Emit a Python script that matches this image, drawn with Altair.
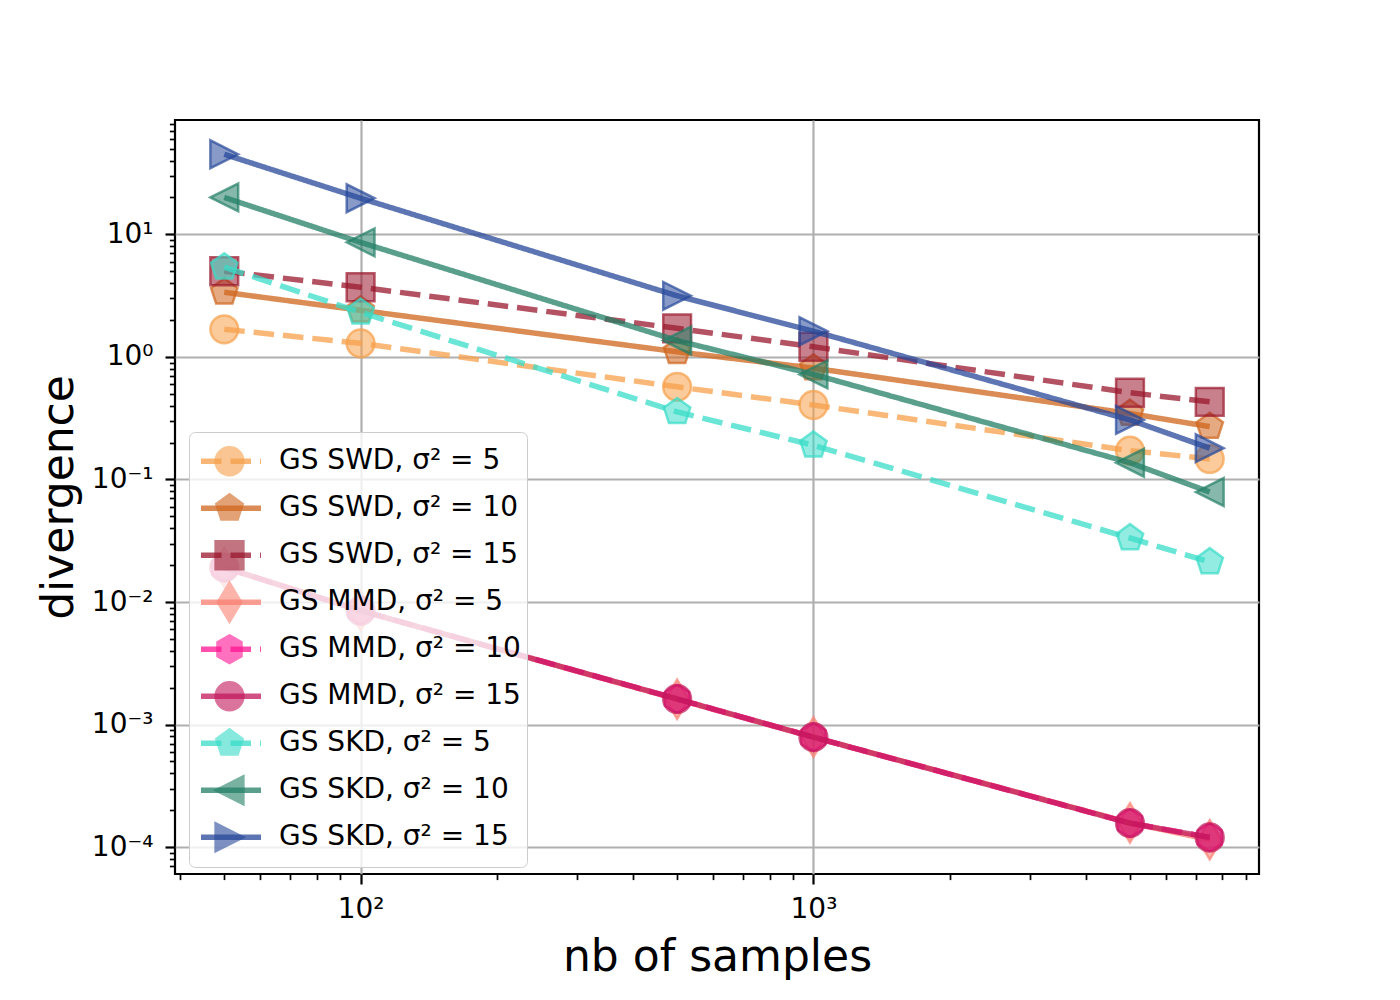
import math
import json
import altair as alt
import pandas as pd

# ---------------- data ----------------
x_vals = [50, 100, 500, 1000, 5000, 7500]

labels = [
    "GS SWD, σ² = 5", "GS SWD, σ² = 10", "GS SWD, σ² = 15",
    "GS MMD, σ² = 5", "GS MMD, σ² = 10", "GS MMD, σ² = 15",
    "GS SKD, σ² = 5", "GS SKD, σ² = 10", "GS SKD, σ² = 15",
]

swd5 = [1.68, 1.29, 0.57, 0.405, 0.172, 0.147]
swd10 = [3.37, 2.40, 1.10, 0.81, 0.345, 0.27]
swd15 = [5.0, 3.70, 1.71, 1.21, 0.51, 0.43]
mmd5 = [0.0192, 0.0085, 0.00161, 0.00079, 0.000158, 0.000115]
mmd10 = [0.0191, 0.0085, 0.00162, 0.00079, 0.000157, 0.00012]
mmd15 = [0.0191, 0.0085, 0.00162, 0.00079, 0.000157, 0.00012]
skd5 = [5.4, 2.31, 0.356, 0.19, 0.0333, 0.0212]
skd10 = [20.0, 8.6, 1.36, 0.72, 0.137, 0.079]
skd15 = [45.0, 19.7, 3.15, 1.62, 0.306, 0.18]

series_values = [swd5, swd10, swd15, mmd5, mmd10, mmd15, skd5, skd10, skd15]

colors = ["#f7a04a", "#cf651c", "#9a182e",
          "#fa8072", "#ff1493", "#c2185b",
          "#38dcc8", "#237f66", "#27489a"]

DASH = [20.5, 9]
SOLID = [1, 0]
dashes = [DASH, SOLID, DASH, SOLID, DASH, SOLID, DASH, SOLID, SOLID]

PENTAGON = "M0,-1L0.9511,-0.309L0.5878,0.809L-0.5878,0.809L-0.9511,-0.309Z"
HEXAGON = "M0,-1L0.866,-0.5L0.866,0.5L0,1L-0.866,0.5L-0.866,-0.5Z"
THIN_DIAMOND = "M0,-1.414L0.849,0L0,1.414L-0.849,0Z"
TRI_LEFT = "M-1,0L1,-1L1,1Z"
TRI_RIGHT = "M1,0L-1,-1L-1,1Z"
shapes = ["circle", PENTAGON, "square",
          THIN_DIAMOND, HEXAGON, "circle",
          PENTAGON, TRI_LEFT, TRI_RIGHT]

mkeys = [f"m{i}" for i in range(len(labels))]

rows = []
for k, (lab, vals) in enumerate(zip(labels, series_values)):
    for xv, yv in zip(x_vals, vals):
        rows.append({"k": k, "series": lab, "mk": mkeys[k], "x": xv, "y": yv})
df = pd.DataFrame(rows)

# matplotlib-like 5% margins in log space
lx = [math.log10(v) for v in x_vals]
ly = [math.log10(v) for s in series_values for v in s]
mx = 0.05 * (max(lx) - min(lx))
my = 0.05 * (max(ly) - min(ly))
x_dom = [10 ** (min(lx) - mx), 10 ** (max(lx) + mx)]
y_dom = [10 ** (min(ly) - my), 10 ** (max(ly) + my)]

x_ticks = [m * 10 ** e for e in range(1, 4) for m in range(1, 10)
           if x_dom[0] <= m * 10 ** e <= x_dom[1]]
y_ticks = [m * 10.0 ** e for e in range(-5, 2) for m in range(1, 10)
           if y_dom[0] <= m * 10.0 ** e <= y_dom[1]]

sups = ["⁻⁵", "⁻⁴", "⁻³", "⁻²", "⁻¹", "⁰", "¹", "²", "³"]
LOGV = "(log(datum.value)/LN10)"
MAJOR = f"abs({LOGV} - round({LOGV})) < 1e-6"
label_expr = f"{MAJOR} ? '10' + {json.dumps(sups, ensure_ascii=False)}[round({LOGV}) + 5] : ''"

FONT = "DejaVu Sans"


def make_axis(title, orient, label_pad, title_pad):
    return alt.Axis(
        title=title, values=x_ticks if orient == "bottom" else y_ticks,
        labelExpr=label_expr, labelFont=FONT, labelFontSize=28, labelColor="black",
        labelPadding=label_pad, labelOverlap=False, labelFlush=False,
        tickColor="black",
        tickSize={"condition": {"test": MAJOR, "value": 10}, "value": 5.6},
        tickWidth={"condition": {"test": MAJOR, "value": 2.2}, "value": 1.7},
        grid=True, gridColor="#b0b0b0", gridWidth=2.2,
        gridOpacity={"condition": {"test": MAJOR, "value": 1}, "value": 0},
        domain=False,
        titleFont=FONT, titleFontSize=44, titleFontWeight="normal", titleColor="black",
        titlePadding=title_pad,
    )


X = alt.X("x:Q", scale=alt.Scale(type="log", domain=x_dom, nice=False),
          axis=make_axis("nb of samples", "bottom", 11, 12))
Y = alt.Y("y:Q", scale=alt.Scale(type="log", domain=y_dom, nice=False),
          axis=make_axis("divergence", "left", 12, 10))

LEG_X, LEG_Y = 14, 312
ROW_H = 46.5

line_legend = alt.Legend(
    orient="none", legendX=LEG_X, legendY=LEG_Y, direction="vertical", title=None,
    symbolType="stroke", symbolSize=3600, symbolStrokeWidth=5.5, symbolOffset=3,
    labelFont=FONT, labelFontSize=28, labelColor="black", labelLimit=500,
    labelOffset=15, clipHeight=ROW_H, rowPadding=0, padding=6,
    fillColor="rgba(255,255,255,0.8)", strokeColor="#cccccc", cornerRadius=6,
)

pt_legend = alt.Legend(
    orient="none", legendX=LEG_X, legendY=LEG_Y, direction="vertical", title=None,
    symbolSize=773, symbolStrokeWidth=2.5, symbolOffset=19, symbolOpacity=0.6,
    labelExpr="''", labelFontSize=28, clipHeight=ROW_H, rowPadding=0, padding=6,
)

base = alt.Chart(df)
layers = []
for k in range(len(labels)):
    sub = base.transform_filter(alt.datum.k == k)
    line = sub.mark_line(strokeWidth=5.5, opacity=0.75, strokeCap="butt").encode(
        x=X, y=Y,
        color=alt.Color("series:N", scale=alt.Scale(domain=labels, range=colors), legend=line_legend),
        strokeDash=alt.StrokeDash("series:N", scale=alt.Scale(domain=labels, range=dashes), legend=line_legend),
    )
    pts = sub.mark_point(filled=True, size=773, strokeWidth=2.5, fillOpacity=0.55, strokeOpacity=0.7).encode(
        x=X, y=Y,
        fill=alt.Fill("mk:N", scale=alt.Scale(domain=mkeys, range=colors), legend=pt_legend),
        stroke=alt.Stroke("mk:N", scale=alt.Scale(domain=mkeys, range=colors), legend=pt_legend),
        shape=alt.Shape("mk:N", scale=alt.Scale(domain=mkeys, range=shapes), legend=pt_legend),
    )
    layers += [line, pts]

chart = alt.layer(*layers).properties(
    width=1084, height=754,
    autosize=alt.AutoSizeParams(type="none"),
    padding={"left": 167, "top": 112, "right": 100, "bottom": 116},
    background="white",
).configure(font=FONT).configure_view(stroke="black", strokeWidth=2.2)

chart.save("out.html", embed_options={"renderer": "svg", "actions": False})
